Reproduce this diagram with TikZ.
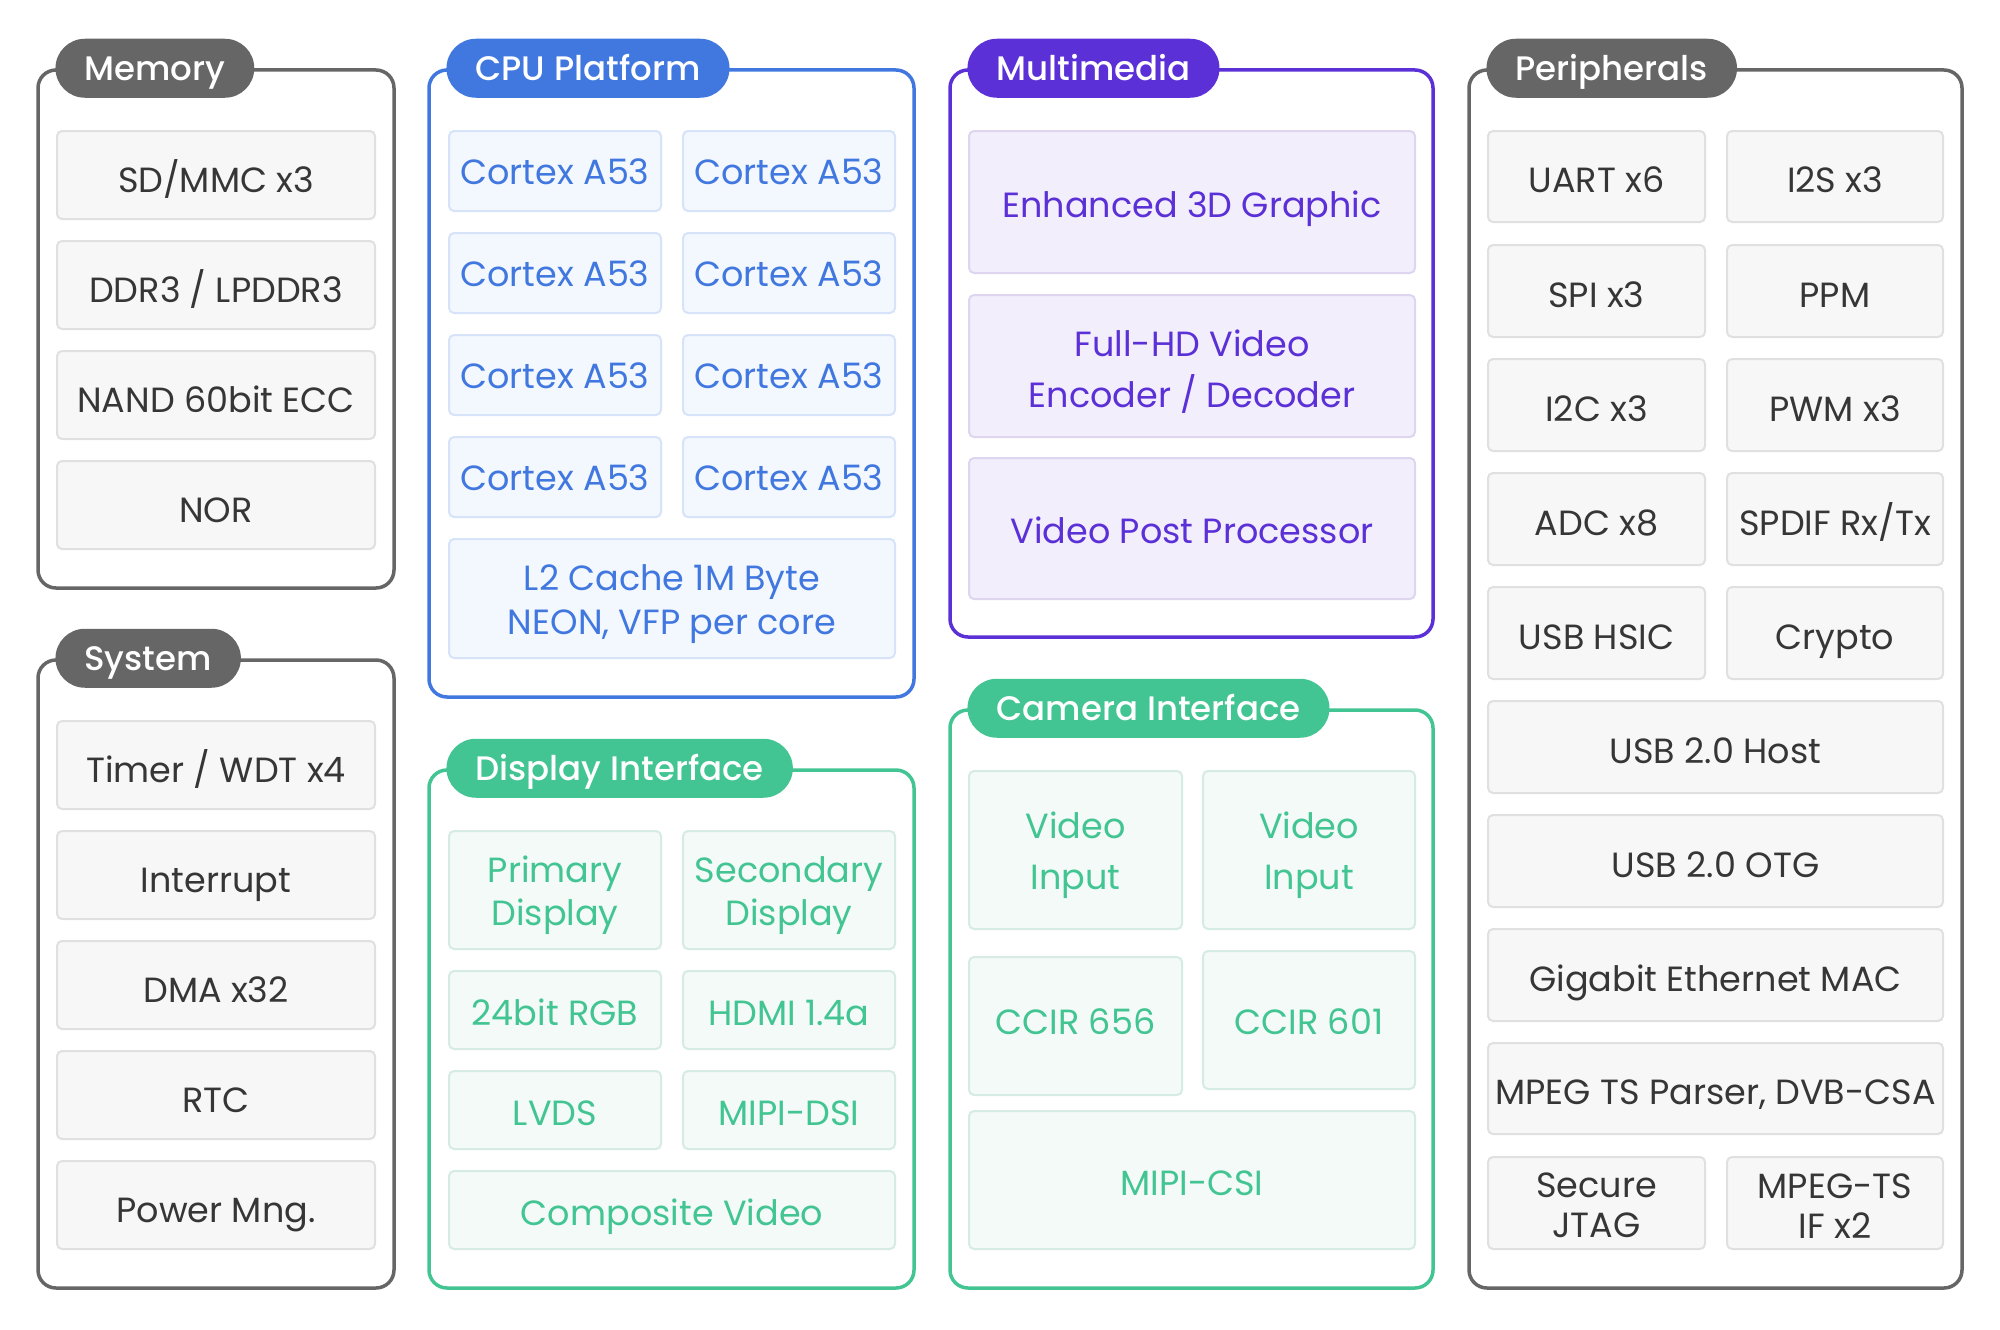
\documentclass[tikz,border=0pt]{standalone}
\usepackage{fontspec}
\setmainfont{Poppins}
\newfontfamily\titlefont{Poppins Medium}
\definecolor{fgray}{HTML}{666666}
\definecolor{gfill}{HTML}{F7F7F7}
\definecolor{gline}{HTML}{E0E0E0}
\definecolor{gtext}{HTML}{363636}
\definecolor{cblue}{HTML}{4178E0}
\definecolor{bfill}{HTML}{F3F7FE}
\definecolor{bline}{HTML}{D7E3F8}
\definecolor{cpurple}{HTML}{5B30D6}
\definecolor{pfill}{HTML}{F2EEFC}
\definecolor{pline}{HTML}{DDD6EE}
\definecolor{cgreen}{HTML}{42C592}
\definecolor{grfill}{HTML}{F3FAF8}
\definecolor{grline}{HTML}{D5EBE3}
\newcommand\cell[7]{\node[#2, minimum width=#5pt, minimum height=#6pt] (#1) at (#3,#4) {#7};}
\newcommand\panel[6]{\node[frame, draw=#2, minimum width=#5pt, minimum height=#6pt] (#1) at (#3,#4) {};}
\newcommand\up[1]{\rule{0pt}{#1pt}}
\begin{document}
\begin{tikzpicture}[x=1pt,y=-1pt,
  frame/.style={line width=3.5pt, rounded corners=18pt, fill=white, inner sep=0pt},
  pill/.style={rounded corners=29.5pt, minimum height=59pt, inner xsep=29pt, inner ysep=0pt,
    text height=24pt, text depth=0pt,
    text=white, anchor=west, font=\titlefont\fontsize{34}{40}\selectfont},
  cell/.style={draw, line width=2pt, rounded corners=5pt, inner sep=2pt, align=center,
    font=\fontsize{35}{44}\selectfont},
  one/.style={text height=#1pt, text depth=0pt},
  one/.default=30,
  graycell/.style={cell, fill=gfill, draw=gline, text=gtext},
  bluecell/.style={cell, fill=bfill, draw=bline, text=cblue},
  purplecell/.style={cell, fill=pfill, draw=pline, text=cpurple},
  greencell/.style={cell, fill=grfill, draw=grline, text=cgreen},
  bs/.style={font=\fontsize{35}{#1}\selectfont}
]
\useasboundingbox (0,0) rectangle (2000,1330);
\fill[white] (0,0) rectangle (2000,1330);
% panels
\panel{memF}{fgray}{216}{329}{356}{518}
\panel{sysF}{fgray}{216}{974}{356}{628}
\panel{cpuF}{cblue}{671.5}{383.5}{485}{627}
\panel{disF}{cgreen}{671.5}{1029}{485}{518}
\panel{mmF}{cpurple}{1191.5}{353.5}{483}{567}
\panel{camF}{cgreen}{1191.5}{999}{483}{578}
\panel{perF}{fgray}{1715.5}{679}{493}{1218}
% pills
\node[pill, fill=fgray] (memP) at ([xshift=19pt]memF.north west) {Memory};
\node[pill, fill=fgray] (sysP) at ([xshift=19pt]sysF.north west) {System};
\node[pill, fill=cblue] (cpuP) at ([xshift=19pt]cpuF.north west) {CPU Platform};
\node[pill, fill=cgreen] (disP) at ([xshift=19pt]disF.north west) {Display Interface};
\node[pill, fill=cpurple] (mmP) at ([xshift=19pt]mmF.north west) {Multimedia};
\node[pill, fill=cgreen] (camP) at ([xshift=19pt]camF.north west) {Camera Interface};
\node[pill, fill=fgray] (perP) at ([xshift=19pt]perF.north west) {Peripherals};
% memory
\cell{memA}{graycell,one=34}{216}{175}{318}{88}{SD/MMC x3}
\cell{memB}{graycell,one=34}{216}{285}{318}{88}{DDR3 / LPDDR3}
\cell{memC}{graycell,one=34}{216}{395}{318}{88}{NAND 60bit ECC}
\cell{memD}{graycell,one=34}{216}{505}{318}{88}{NOR}
% system
\cell{sysA}{graycell,one=34}{216}{765}{318}{88}{Timer / WDT x4}
\cell{sysB}{graycell,one=34}{216}{875}{318}{88}{Interrupt}
\cell{sysC}{graycell,one=34}{216}{985}{318}{88}{DMA x32}
\cell{sysD}{graycell,one=34}{216}{1095}{318}{88}{RTC}
\cell{sysE}{graycell,one=34}{216}{1205}{318}{88}{Power Mng.}
% cpu
\cell{cA}{bluecell,one=27}{555}{171}{212}{80}{Cortex A53}
\cell{cB}{bluecell,one=27}{789}{171}{212}{80}{Cortex A53}
\cell{cC}{bluecell,one=27}{555}{273}{212}{80}{Cortex A53}
\cell{cD}{bluecell,one=27}{789}{273}{212}{80}{Cortex A53}
\cell{cE}{bluecell,one=27}{555}{375}{212}{80}{Cortex A53}
\cell{cF}{bluecell,one=27}{789}{375}{212}{80}{Cortex A53}
\cell{cG}{bluecell,one=27}{555}{477}{212}{80}{Cortex A53}
\cell{cH}{bluecell,one=27}{789}{477}{212}{80}{Cortex A53}
\cell{cL}{bluecell,bs=44}{672}{598.5}{446}{119}{\up{37}L2 Cache 1M Byte\\NEON, VFP per core}
% display
\cell{dA}{greencell,bs=43}{555}{890}{212}{118}{\up{37}Primary\\Display}
\cell{dB}{greencell,bs=43}{789}{890}{212}{118}{\up{37}Secondary\\Display}
\cell{dC}{greencell,one}{555}{1010}{212}{78}{24bit RGB}
\cell{dD}{greencell,one}{789}{1010}{212}{78}{HDMI 1.4a}
\cell{dE}{greencell,one}{555}{1110}{212}{78}{LVDS}
\cell{dF}{greencell,one}{789}{1110}{212}{78}{MIPI-DSI}
\cell{dG}{greencell,one}{672}{1210}{446}{78}{Composite Video}
% multimedia
\cell{mA}{purplecell,one}{1192}{202}{446}{142}{Enhanced 3D Graphic}
\cell{mB}{purplecell,bs=51}{1192}{366}{446}{142}{\up{37}Full-HD Video\\Encoder / Decoder}
\cell{mC}{purplecell,one}{1192}{528.5}{446}{141}{Video Post Processor}
% camera
\cell{kA}{greencell,bs=51}{1075.5}{850}{213}{158}{\up{37}Video\\Input}
\cell{kB}{greencell,bs=51}{1309}{850}{212}{158}{\up{37}Video\\Input}
\cell{kC}{greencell,one=16}{1075.5}{1026}{213}{138}{CCIR 656}
\cell{kD}{greencell,one=28}{1309}{1020}{212}{138}{CCIR 601}
\cell{kE}{greencell,one}{1192}{1180}{446}{138}{MIPI-CSI}
% peripherals
\cell{pA}{graycell,one=32}{1596.5}{176.5}{217}{91}{UART x6}
\cell{pB}{graycell,one=32}{1835}{176.5}{216}{91}{I2S x3}
\cell{pC}{graycell,one=32}{1596.5}{291}{217}{92}{SPI x3}
\cell{pD}{graycell,one=32}{1835}{291}{216}{92}{PPM}
\cell{pE}{graycell,one=32}{1596.5}{405}{217}{92}{I2C x3}
\cell{pF}{graycell,one=32}{1835}{405}{216}{92}{PWM x3}
\cell{pG}{graycell,one=32}{1596.5}{519}{217}{92}{ADC x8}
\cell{pH}{graycell,one=32}{1835}{519}{216}{92}{SPDIF Rx/Tx}
\cell{pI}{graycell,one=32}{1596.5}{633}{217}{92}{USB HSIC}
\cell{pJ}{graycell,one=32}{1835}{633}{216}{92}{Crypto}
\cell{pK}{graycell,one=32}{1715.5}{747}{455}{92}{USB 2.0 Host}
\cell{pL}{graycell,one=32}{1715.5}{861}{455}{92}{USB 2.0 OTG}
\cell{pM}{graycell,one=32}{1715.5}{975}{455}{92}{Gigabit Ethernet MAC}
\cell{pN}{graycell,one=32}{1715.5}{1088.5}{455}{91}{MPEG TS Parser, DVB-CSA}
\cell{pO}{graycell,bs=40}{1596.5}{1203}{217}{92}{\up{30}Secure\\JTAG}
\cell{pP}{graycell,bs=40}{1835}{1203}{216}{92}{\up{30}MPEG-TS\\IF x2}
\end{tikzpicture}
\end{document}
